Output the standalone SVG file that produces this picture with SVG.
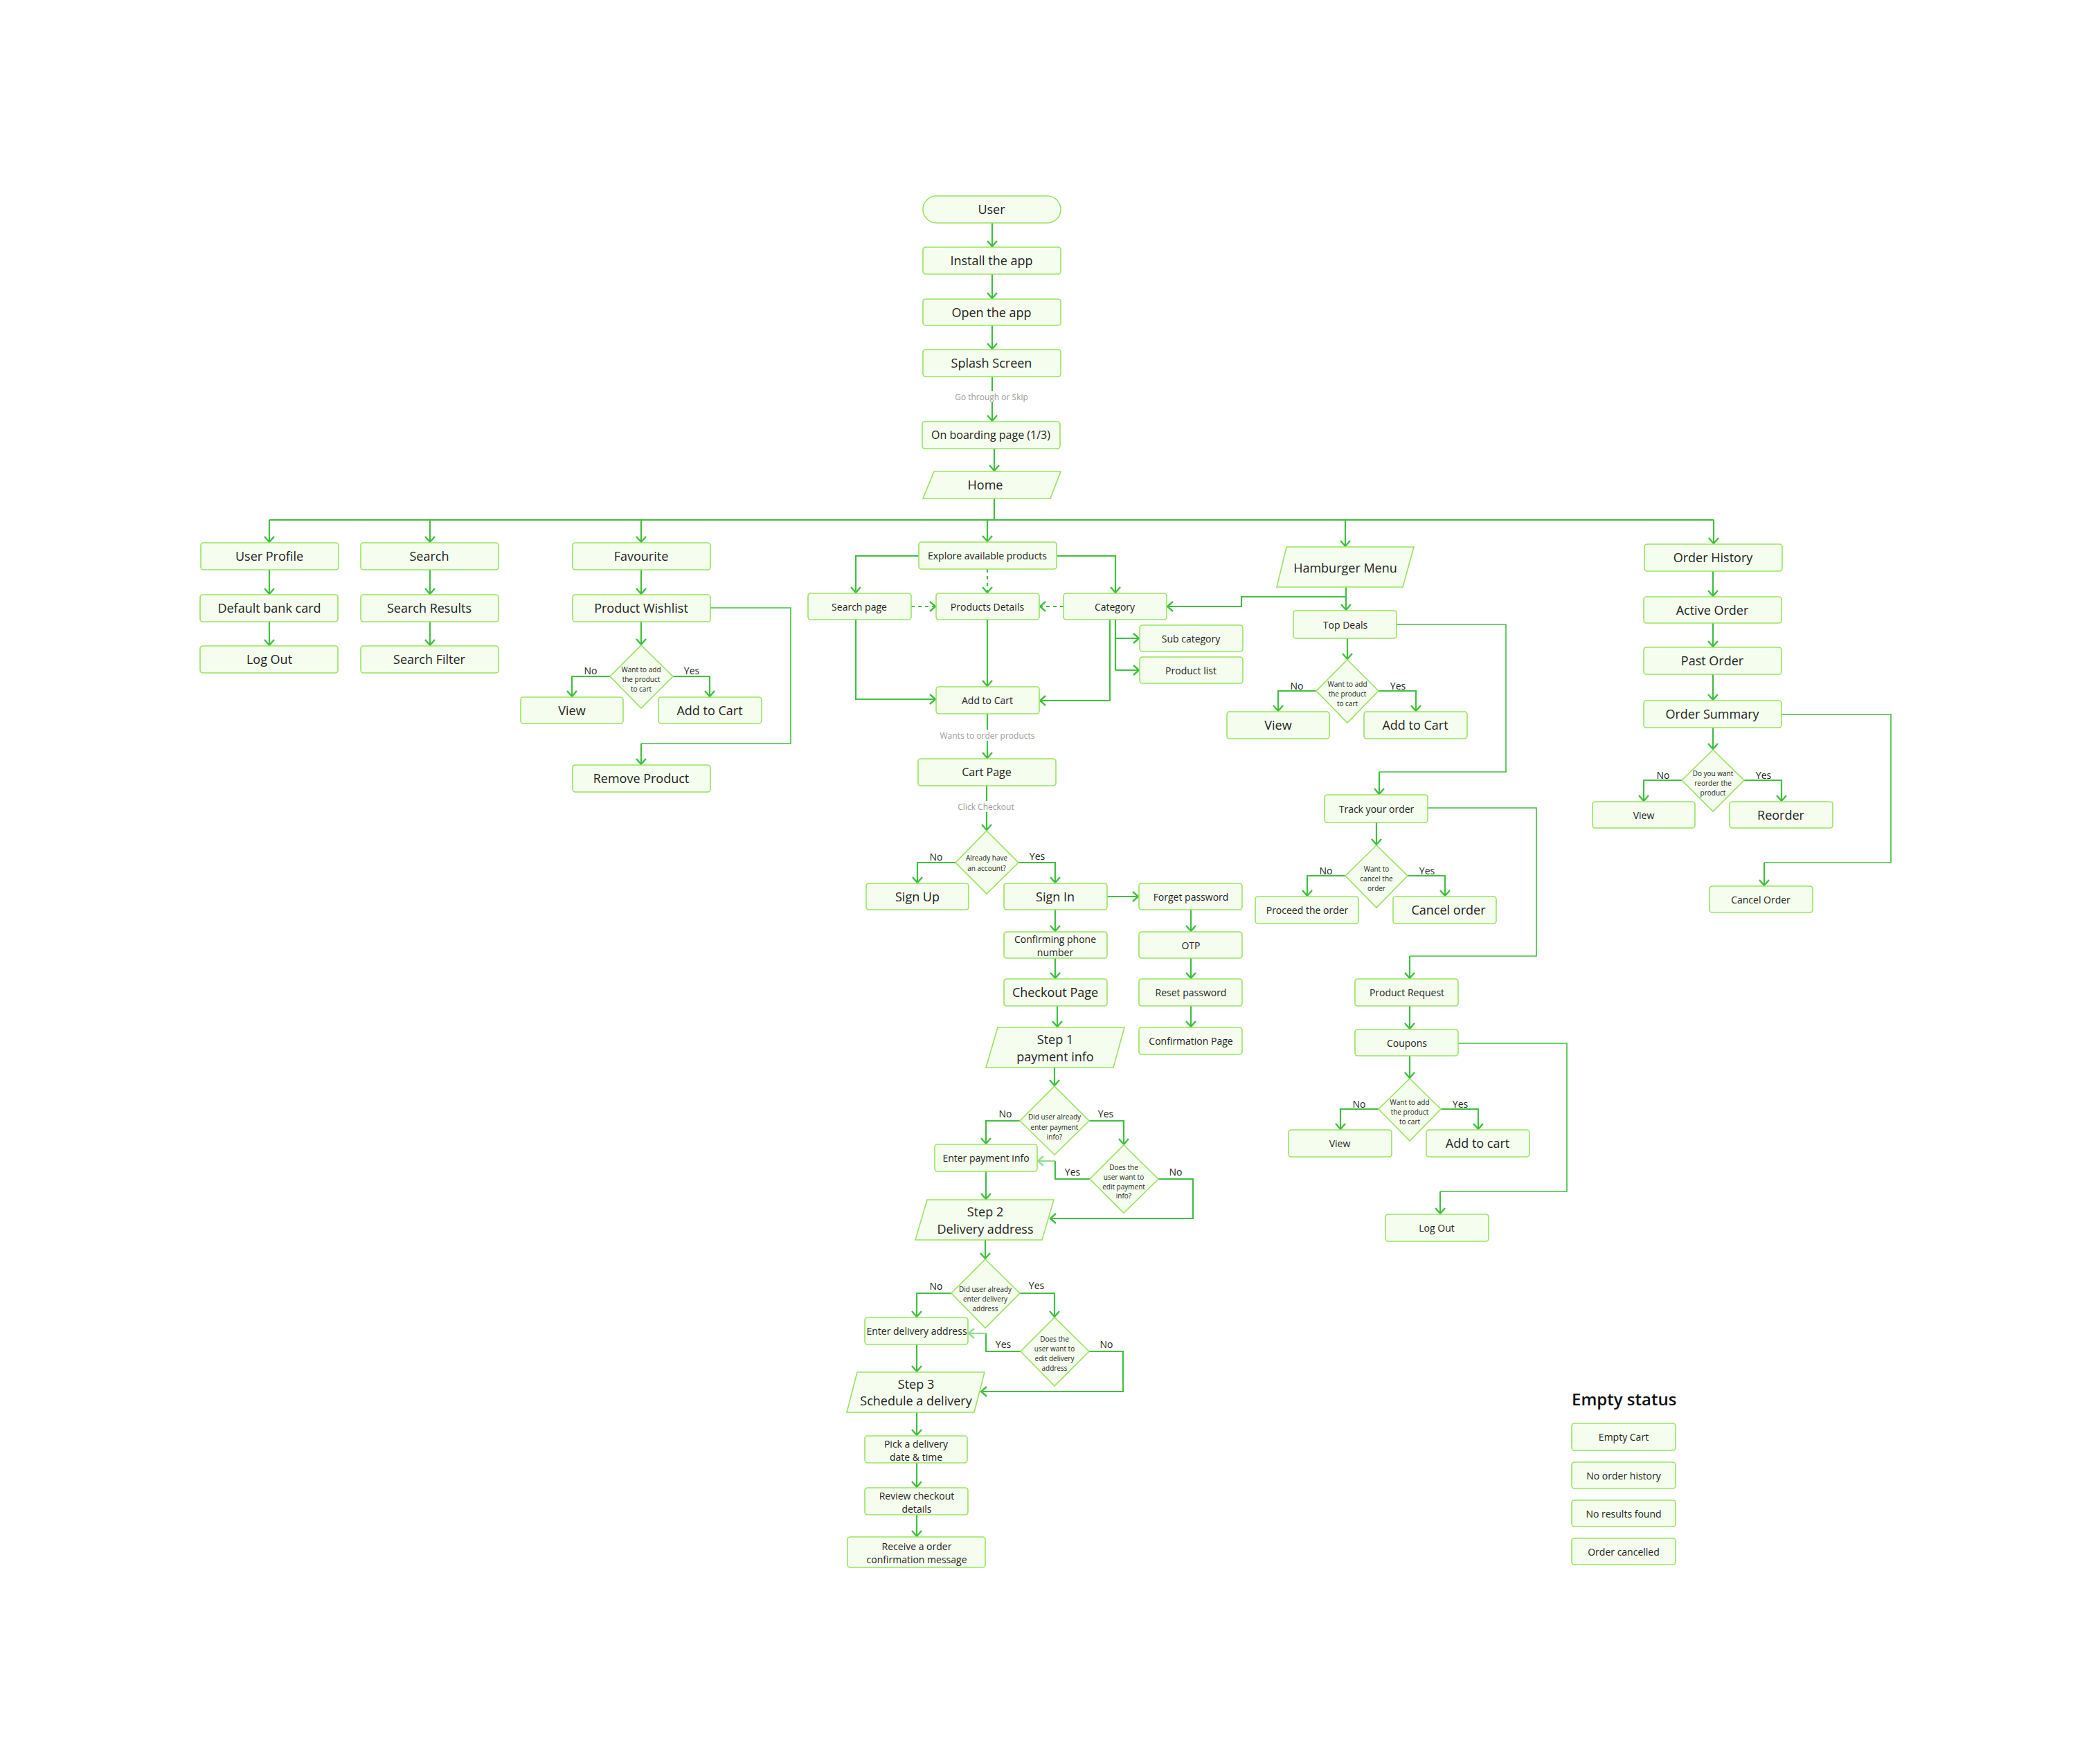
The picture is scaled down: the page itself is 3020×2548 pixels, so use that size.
<svg xmlns="http://www.w3.org/2000/svg" width="3020" height="2548" viewBox="0 0 3020 2548">
  <defs>
    <style>
      .n rect, .n polygon { fill: #f5fdee; stroke: #98e35f; stroke-width: 1.6; }
      .n text, .lbl { font-family: "Open Sans", "Noto Sans", "Liberation Sans", sans-serif; fill: #222; text-anchor: middle; dominant-baseline: central; }
      .s18 { font-size: 18px; }
      .s16 { font-size: 16px; }
      .s14 { font-size: 14px; }
      .s10 { font-size: 10px; }
      .lbl { font-size: 14px; }
      .note { font-family: "Open Sans", "Noto Sans", sans-serif; font-size: 12px; fill: #9a9a9a; text-anchor: middle; dominant-baseline: central; }
      .c { fill: none; stroke: #3fbf3f; stroke-width: 2.2; marker-end: url(#ah); }
      .cl { fill: none; stroke: #8fdf8f; stroke-width: 2.2; marker-end: url(#ahl); }
      .r { fill: none; stroke: #3fbf3f; stroke-width: 1.6; }
      .d { fill: none; stroke: #3fbf3f; stroke-width: 2.2; stroke-dasharray: 5 5; marker-end: url(#ah); }
      .title { font-family: "Open Sans", "Noto Sans", sans-serif; font-size: 24px; font-weight: 600; fill: #111; }
    </style>
    <marker id="ah" markerUnits="userSpaceOnUse" markerWidth="20" markerHeight="20" viewBox="-10 -10 20 20" refX="1" refY="0" orient="auto">
      <path d="M-8,-7 L0,0 L-8,7" fill="none" stroke="#3fbf3f" stroke-width="2.4"/>
    </marker>
    <marker id="ahl" markerUnits="userSpaceOnUse" markerWidth="20" markerHeight="20" viewBox="-10 -10 20 20" refX="1" refY="0" orient="auto">
      <path d="M-8,-7 L0,0 L-8,7" fill="none" stroke="#8fdf8f" stroke-width="2.4"/>
    </marker>
  </defs>

  <rect width="3020" height="2548" fill="#ffffff"/>

  <!-- connectors -->
  <g id="connectors">
    <!-- onboarding chain -->
    <path class="c" d="M1433,322 V357"/>
    <path class="c" d="M1433,396 V432"/>
    <path class="c" d="M1433,470 V505"/>
    <path class="c" d="M1433,544 V609"/>
    <path class="c" d="M1436,648 V681"/>
    <path class="r" style="stroke-width:2.2" d="M1436,720 V751"/>

    <!-- home bus -->
    <path class="r" style="stroke-width:2.2" d="M389,751 H2475"/>
    <path class="c" d="M389,751 V784"/>
    <path class="c" d="M621,751 V784"/>
    <path class="c" d="M926,751 V784"/>
    <path class="c" d="M1426,751 V783"/>
    <path class="c" d="M1943,751 V790"/>
    <path class="c" d="M2475,751 V786"/>

    <!-- user profile / search -->
    <path class="c" d="M389,823 V859"/>
    <path class="c" d="M389,898 V933"/>
    <path class="c" d="M621,823 V859"/>
    <path class="c" d="M621,898 V933"/>

    <!-- favourite -->
    <path class="c" d="M926,823 V859"/>
    <path class="c" d="M926,898 V932"/>
    <path class="c" d="M881,977 H826 V1007"/>
    <path class="c" d="M972,977 H1025 V1007"/>
    <path class="r" d="M1025,878 H1142 V1074 H926"/>
    <path class="c" d="M926,1074 V1105"/>

    <!-- explore products -->
    <path class="c" d="M1327,803 H1236 V857"/>
    <path class="c" d="M1526,803 H1611 V857"/>
    <path class="d" d="M1426,822 V857"/>
    <path class="d" d="M1316,876 H1352"/>
    <path class="d" d="M1536,876 H1501"/>
    <path class="c" d="M1236,895 V1010 H1352"/>
    <path class="c" d="M1426,895 V992"/>
    <path class="c" d="M1603,895 V1012 H1501"/>
    <path class="r" style="stroke-width:2.2" d="M1611,895 V968"/>
    <path class="c" d="M1611,922 H1646"/>
    <path class="c" d="M1611,968 H1646"/>
    <path class="c" d="M1426,1031 V1096"/>
    <path class="c" d="M1425,1135 V1200"/>

    <!-- account -->
    <path class="c" d="M1380,1246 H1325 V1276"/>
    <path class="c" d="M1471,1246 H1524 V1276"/>
    <path class="c" d="M1599,1295 H1645"/>
    <path class="c" d="M1720,1314 V1346"/>
    <path class="c" d="M1720,1384 V1414"/>
    <path class="c" d="M1720,1453 V1484"/>
    <path class="c" d="M1524,1314 V1346"/>
    <path class="c" d="M1524,1384 V1414"/>
    <path class="c" d="M1527,1453 V1484"/>
    <path class="c" d="M1523,1542 V1569"/>

    <!-- payment -->
    <path class="c" d="M1473,1619 H1424 V1653"/>
    <path class="c" d="M1573,1619 H1623 V1654"/>
    <path class="r" style="stroke-width:2.2" d="M1574,1703 H1524 V1677"/>
    <path class="cl" d="M1524,1677 H1498"/>
    <path class="c" d="M1673,1703 H1723 V1760 H1516"/>
    <path class="c" d="M1424,1692 V1733"/>
    <path class="c" d="M1423,1791 V1819"/>

    <!-- delivery -->
    <path class="c" d="M1374,1868 H1324 V1903"/>
    <path class="c" d="M1473,1868 H1523 V1903"/>
    <path class="r" style="stroke-width:2.2" d="M1474,1952 H1424 V1926"/>
    <path class="cl" d="M1424,1926 H1398"/>
    <path class="c" d="M1573,1952 H1622 V2010 H1416"/>
    <path class="c" d="M1324,1942 V1982"/>
    <path class="c" d="M1324,2040 V2074"/>
    <path class="c" d="M1324,2113 V2149"/>
    <path class="c" d="M1324,2188 V2220"/>

    <!-- hamburger menu -->
    <path class="c" d="M1944,848 V882"/>
    <path class="c" d="M1944,862 H1793 V876 H1685"/>
    <path class="c" d="M1946,922 V953"/>
    <path class="c" d="M1901,998 H1846 V1028"/>
    <path class="c" d="M1991,998 H2045 V1028"/>
    <path class="r" d="M2017,902 H2175 V1115 H1992"/>
    <path class="c" d="M1992,1115 V1148"/>
    <path class="c" d="M1988,1188 V1221"/>
    <path class="c" d="M1943,1265 H1888 V1295"/>
    <path class="c" d="M2033,1265 H2087 V1295"/>
    <path class="r" d="M2062,1167 H2219 V1381 H2036"/>
    <path class="c" d="M2036,1381 V1414"/>
    <path class="c" d="M2036,1453 V1487"/>
    <path class="c" d="M2036,1525 V1558"/>
    <path class="c" d="M1991,1602 H1936 V1632"/>
    <path class="c" d="M2081,1602 H2135 V1632"/>
    <path class="r" d="M2106,1507 H2263 V1721 H2080"/>
    <path class="c" d="M2080,1721 V1754"/>

    <!-- order history -->
    <path class="c" d="M2474,825 V862"/>
    <path class="c" d="M2474,900 V935"/>
    <path class="c" d="M2474,974 V1012"/>
    <path class="c" d="M2474,1051 V1083"/>
    <path class="c" d="M2429,1127 H2374 V1158"/>
    <path class="c" d="M2519,1127 H2573 V1158"/>
    <path class="r" d="M2573,1032 H2731 V1246 H2548"/>
    <path class="c" d="M2548,1246 V1280"/>

    <!-- connector notes -->
    <rect x="1378" y="565" width="108" height="16" fill="#fff"/>
    <text class="note" x="1432" y="573">Go through or Skip</text>
    <rect x="1356" y="1054" width="140" height="16" fill="#fff"/>
    <text class="note" x="1426" y="1062">Wants to order products</text>
    <rect x="1382" y="1157" width="84" height="16" fill="#fff"/>
    <text class="note" x="1424" y="1165">Click Checkout</text>

    <!-- yes / no labels -->
    <text class="lbl" x="853" y="968">No</text>
    <text class="lbl" x="999" y="968">Yes</text>
    <text class="lbl" x="1873" y="990">No</text>
    <text class="lbl" x="2019" y="990">Yes</text>
    <text class="lbl" x="2402" y="1119">No</text>
    <text class="lbl" x="2547" y="1119">Yes</text>
    <text class="lbl" x="1352" y="1237">No</text>
    <text class="lbl" x="1498" y="1236">Yes</text>
    <text class="lbl" x="1915" y="1257">No</text>
    <text class="lbl" x="2061" y="1257">Yes</text>
    <text class="lbl" x="1963" y="1594">No</text>
    <text class="lbl" x="2109" y="1594">Yes</text>
    <text class="lbl" x="1452" y="1608">No</text>
    <text class="lbl" x="1597" y="1608">Yes</text>
    <text class="lbl" x="1549" y="1692">Yes</text>
    <text class="lbl" x="1698" y="1692">No</text>
    <text class="lbl" x="1352" y="1857">No</text>
    <text class="lbl" x="1497" y="1856">Yes</text>
    <text class="lbl" x="1449" y="1941">Yes</text>
    <text class="lbl" x="1598" y="1941">No</text>
  </g>

  <!-- onboarding -->
  <g id="user" class="n"><rect x="1333" y="283" width="199" height="39" rx="19.5"/><text class="s18" x="1432" y="302">User</text></g>
  <g id="install" class="n"><rect x="1333" y="357" width="199" height="39" rx="4"/><text class="s18" x="1432" y="376">Install the app</text></g>
  <g id="open" class="n"><rect x="1333" y="432" width="199" height="38" rx="4"/><text class="s18" x="1432" y="451">Open the app</text></g>
  <g id="splash" class="n"><rect x="1333" y="505" width="199" height="39" rx="4"/><text class="s18" x="1432" y="524">Splash Screen</text></g>
  <g id="onboarding" class="n"><rect x="1332" y="609" width="199" height="39" rx="4"/><text class="s16" x="1431" y="628">On boarding page (1/3)</text></g>
  <g id="home" class="n"><polygon points="1349,681 1532,681 1517,720 1333,720"/><text class="s18" x="1423" y="700">Home</text></g>

  <!-- user profile column -->
  <g id="user-profile" class="n"><rect x="290" y="784" width="199" height="39" rx="4"/><text class="s18" x="389" y="803">User Profile</text></g>
  <g id="default-bank-card" class="n"><rect x="289" y="859" width="199" height="39" rx="4"/><text class="s18" x="389" y="878">Default bank card</text></g>
  <g id="log-out-1" class="n"><rect x="289" y="933" width="199" height="39" rx="4"/><text class="s18" x="389" y="952">Log Out</text></g>

  <!-- search column -->
  <g id="search" class="n"><rect x="521" y="784" width="199" height="39" rx="4"/><text class="s18" x="620" y="803">Search</text></g>
  <g id="search-results" class="n"><rect x="521" y="859" width="199" height="39" rx="4"/><text class="s18" x="620" y="878">Search Results</text></g>
  <g id="search-filter" class="n"><rect x="521" y="933" width="199" height="39" rx="4"/><text class="s18" x="620" y="952">Search Filter</text></g>

  <!-- favourite column -->
  <g id="favourite" class="n"><rect x="827" y="784" width="199" height="39" rx="4"/><text class="s18" x="926" y="803">Favourite</text></g>
  <g id="product-wishlist" class="n"><rect x="827" y="859" width="199" height="39" rx="4"/><text class="s18" x="926" y="878">Product Wishlist</text></g>
  <g id="fav-decision" class="n"><polygon points="926,932 972,977 926,1023 881,977"/>
    <text class="s10" x="926" y="967">Want to add</text><text class="s10" x="926" y="981">the product</text><text class="s10" x="926" y="995">to cart</text></g>
  <g id="fav-view" class="n"><rect x="752" y="1007" width="148" height="38" rx="4"/><text class="s18" x="826" y="1026">View</text></g>
  <g id="fav-add" class="n"><rect x="951" y="1007" width="149" height="38" rx="4"/><text class="s18" x="1025" y="1026">Add to Cart</text></g>
  <g id="remove-product" class="n"><rect x="827" y="1105" width="199" height="39" rx="4"/><text class="s18" x="926" y="1124">Remove Product</text></g>

  <!-- explore column -->
  <g id="explore" class="n"><rect x="1327" y="783" width="199" height="39" rx="4"/><text class="s14" x="1426" y="802">Explore available products</text></g>
  <g id="search-page" class="n"><rect x="1167" y="857" width="149" height="38" rx="4"/><text class="s14" x="1241" y="876">Search page</text></g>
  <g id="products-details" class="n"><rect x="1352" y="857" width="149" height="38" rx="4"/><text class="s14" x="1426" y="876">Products Details</text></g>
  <g id="category" class="n"><rect x="1536" y="857" width="149" height="38" rx="4"/><text class="s14" x="1610" y="876">Category</text></g>
  <g id="sub-category" class="n"><rect x="1646" y="903" width="149" height="38" rx="4"/><text class="s14" x="1720" y="922">Sub category</text></g>
  <g id="product-list" class="n"><rect x="1646" y="949" width="149" height="38" rx="4"/><text class="s14" x="1720" y="968">Product list</text></g>
  <g id="add-to-cart" class="n"><rect x="1352" y="992" width="149" height="39" rx="4"/><text class="s14" x="1426" y="1011">Add to Cart</text></g>
  <g id="cart-page" class="n"><rect x="1326" y="1096" width="199" height="39" rx="4"/><text class="s16" x="1425" y="1115">Cart Page</text></g>
  <g id="account-decision" class="n"><polygon points="1425,1200 1471,1246 1425,1291 1380,1246"/>
    <text class="s10" x="1425" y="1239">Already have</text><text class="s10" x="1425" y="1254">an account?</text></g>
  <g id="sign-up" class="n"><rect x="1251" y="1276" width="148" height="38" rx="4"/><text class="s18" x="1325" y="1295">Sign Up</text></g>
  <g id="sign-in" class="n"><rect x="1450" y="1276" width="149" height="38" rx="4"/><text class="s18" x="1524" y="1295">Sign In</text></g>
  <g id="forget-password" class="n"><rect x="1645" y="1276" width="149" height="38" rx="4"/><text class="s14" x="1720" y="1295">Forget password</text></g>
  <g id="confirm-phone" class="n"><rect x="1450" y="1346" width="149" height="38" rx="4"/><text class="s14" x="1524" y="1356">Confirming phone</text><text class="s14" x="1524" y="1375">number</text></g>
  <g id="otp" class="n"><rect x="1645" y="1346" width="149" height="38" rx="4"/><text class="s14" x="1720" y="1365">OTP</text></g>
  <g id="checkout-page" class="n"><rect x="1450" y="1414" width="149" height="39" rx="4"/><text class="s18" x="1524" y="1433">Checkout Page</text></g>
  <g id="reset-password" class="n"><rect x="1645" y="1414" width="149" height="39" rx="4"/><text class="s14" x="1720" y="1433">Reset password</text></g>
  <g id="confirmation-page" class="n"><rect x="1645" y="1484" width="149" height="39" rx="4"/><text class="s14" x="1720" y="1503">Confirmation Page</text></g>
  <g id="step-1" class="n"><polygon points="1441,1484 1624,1484 1608,1542 1424,1542"/><text class="s18" x="1524" y="1501">Step 1</text><text class="s18" x="1524" y="1526">payment info</text></g>
  <g id="payment-decision" class="n"><polygon points="1523,1569 1573,1619 1523,1668 1473,1619"/>
    <text class="s10" x="1523" y="1613">Did user already</text><text class="s10" x="1523" y="1628">enter payment</text><text class="s10" x="1523" y="1642">info?</text></g>
  <g id="enter-payment" class="n"><rect x="1350" y="1653" width="148" height="39" rx="4"/><text class="s14" x="1424" y="1672">Enter payment info</text></g>
  <g id="edit-payment-decision" class="n"><polygon points="1623,1654 1673,1703 1623,1752 1574,1703"/>
    <text class="s10" x="1623" y="1686">Does the</text><text class="s10" x="1623" y="1700">user want to</text><text class="s10" x="1623" y="1714">edit payment</text><text class="s10" x="1623" y="1727">info?</text></g>
  <g id="step-2" class="n"><polygon points="1339,1733 1522,1733 1505,1791 1322,1791"/><text class="s18" x="1423" y="1750">Step 2</text><text class="s18" x="1423" y="1775">Delivery address</text></g>
  <g id="address-decision" class="n"><polygon points="1423,1819 1473,1868 1423,1918 1374,1868"/>
    <text class="s10" x="1423" y="1862">Did user already</text><text class="s10" x="1423" y="1876">enter delivery</text><text class="s10" x="1423" y="1890">address</text></g>
  <g id="enter-address" class="n"><rect x="1249" y="1903" width="149" height="39" rx="4"/><text class="s14" x="1324" y="1922">Enter delivery address</text></g>
  <g id="edit-address-decision" class="n"><polygon points="1523,1903 1573,1952 1523,2002 1474,1952"/>
    <text class="s10" x="1523" y="1934">Does the</text><text class="s10" x="1523" y="1948">user want to</text><text class="s10" x="1523" y="1962">edit delivery</text><text class="s10" x="1523" y="1976">address</text></g>
  <g id="step-3" class="n"><polygon points="1238,1982 1422,1982 1407,2040 1223,2040"/><text class="s18" x="1323" y="1999">Step 3</text><text class="s18" x="1323" y="2023">Schedule a delivery</text></g>
  <g id="pick-date" class="n"><rect x="1249" y="2074" width="148" height="39" rx="4"/><text class="s14" x="1323" y="2085">Pick a delivery</text><text class="s14" x="1323" y="2104">date &amp; time</text></g>
  <g id="review-checkout" class="n"><rect x="1249" y="2149" width="149" height="39" rx="4"/><text class="s14" x="1324" y="2160">Review checkout</text><text class="s14" x="1324" y="2179">details</text></g>
  <g id="order-confirmation" class="n"><rect x="1224" y="2220" width="199" height="44" rx="4"/><text class="s14" x="1324" y="2233">Receive a order</text><text class="s14" x="1324" y="2252">confirmation message</text></g>

  <!-- hamburger menu column -->
  <g id="hamburger-menu" class="n"><polygon points="1858,790 2042,790 2026,848 1844,848"/><text class="s18" x="1943" y="820">Hamburger Menu</text></g>
  <g id="top-deals" class="n"><rect x="1868" y="882" width="149" height="40" rx="4"/><text class="s14" x="1943" y="902">Top Deals</text></g>
  <g id="deal-decision" class="n"><polygon points="1946,953 1991,998 1946,1044 1901,998"/>
    <text class="s10" x="1946" y="988">Want to add</text><text class="s10" x="1946" y="1002">the product</text><text class="s10" x="1946" y="1016">to cart</text></g>
  <g id="deal-view" class="n"><rect x="1772" y="1028" width="148" height="39" rx="4"/><text class="s18" x="1846" y="1047">View</text></g>
  <g id="deal-add" class="n"><rect x="1970" y="1028" width="149" height="39" rx="4"/><text class="s18" x="2044" y="1047">Add to Cart</text></g>
  <g id="track-order" class="n"><rect x="1913" y="1148" width="149" height="40" rx="4"/><text class="s14" x="1988" y="1168">Track your order</text></g>
  <g id="cancel-decision" class="n"><polygon points="1988,1221 2033,1265 1988,1311 1943,1265"/>
    <text class="s10" x="1988" y="1255">Want to</text><text class="s10" x="1988" y="1269">cancel the</text><text class="s10" x="1988" y="1283">order</text></g>
  <g id="proceed-order" class="n"><rect x="1813" y="1295" width="149" height="39" rx="4"/><text class="s14" x="1888" y="1314">Proceed the order</text></g>
  <g id="cancel-order" class="n"><rect x="2012" y="1295" width="149" height="39" rx="4"/><text class="s18" x="2092" y="1314">Cancel order</text></g>
  <g id="product-request" class="n"><rect x="1957" y="1414" width="149" height="39" rx="4"/><text class="s14" x="2032" y="1433">Product Request</text></g>
  <g id="coupons" class="n"><rect x="1957" y="1487" width="149" height="38" rx="4"/><text class="s14" x="2032" y="1506">Coupons</text></g>
  <g id="coupon-decision" class="n"><polygon points="2036,1558 2081,1602 2036,1648 1991,1602"/>
    <text class="s10" x="2036" y="1592">Want to add</text><text class="s10" x="2036" y="1606">the product</text><text class="s10" x="2036" y="1620">to cart</text></g>
  <g id="coupon-view" class="n"><rect x="1861" y="1632" width="149" height="39" rx="4"/><text class="s14" x="1935" y="1651">View</text></g>
  <g id="coupon-add" class="n"><rect x="2060" y="1632" width="149" height="39" rx="4"/><text class="s18" x="2134" y="1651">Add to cart</text></g>
  <g id="log-out-2" class="n"><rect x="2001" y="1754" width="149" height="39" rx="4"/><text class="s14" x="2075" y="1773">Log Out</text></g>

  <!-- order history column -->
  <g id="order-history" class="n"><rect x="2375" y="786" width="199" height="39" rx="4"/><text class="s18" x="2474" y="805">Order History</text></g>
  <g id="active-order" class="n"><rect x="2374" y="862" width="199" height="38" rx="4"/><text class="s18" x="2473" y="881">Active Order</text></g>
  <g id="past-order" class="n"><rect x="2374" y="935" width="199" height="39" rx="4"/><text class="s18" x="2473" y="954">Past Order</text></g>
  <g id="order-summary" class="n"><rect x="2374" y="1012" width="199" height="39" rx="4"/><text class="s18" x="2473" y="1031">Order Summary</text></g>
  <g id="reorder-decision" class="n"><polygon points="2474,1083 2519,1127 2474,1172 2429,1127"/>
    <text class="s10" x="2474" y="1117">Do you want</text><text class="s10" x="2474" y="1131">reorder the</text><text class="s10" x="2474" y="1145">product</text></g>
  <g id="history-view" class="n"><rect x="2300" y="1158" width="148" height="38" rx="4"/><text class="s14" x="2374" y="1177">View</text></g>
  <g id="reorder" class="n"><rect x="2498" y="1158" width="149" height="38" rx="4"/><text class="s18" x="2572" y="1177">Reorder</text></g>
  <g id="cancel-order-2" class="n"><rect x="2469" y="1280" width="149" height="38" rx="4"/><text class="s14" x="2543" y="1299">Cancel Order</text></g>

  <!-- empty states -->
  <text class="title" x="2270" y="2030">Empty status</text>
  <g id="empty-cart" class="n"><rect x="2270" y="2056" width="150" height="39" rx="4"/><text class="s14" x="2345" y="2075">Empty Cart</text></g>
  <g id="no-order-history" class="n"><rect x="2270" y="2112" width="150" height="38" rx="4"/><text class="s14" x="2345" y="2131">No order history</text></g>
  <g id="no-results" class="n"><rect x="2270" y="2167" width="150" height="38" rx="4"/><text class="s14" x="2345" y="2186">No results found</text></g>
  <g id="order-cancelled" class="n"><rect x="2270" y="2222" width="150" height="38" rx="4"/><text class="s14" x="2345" y="2241">Order cancelled</text></g>
</svg>
